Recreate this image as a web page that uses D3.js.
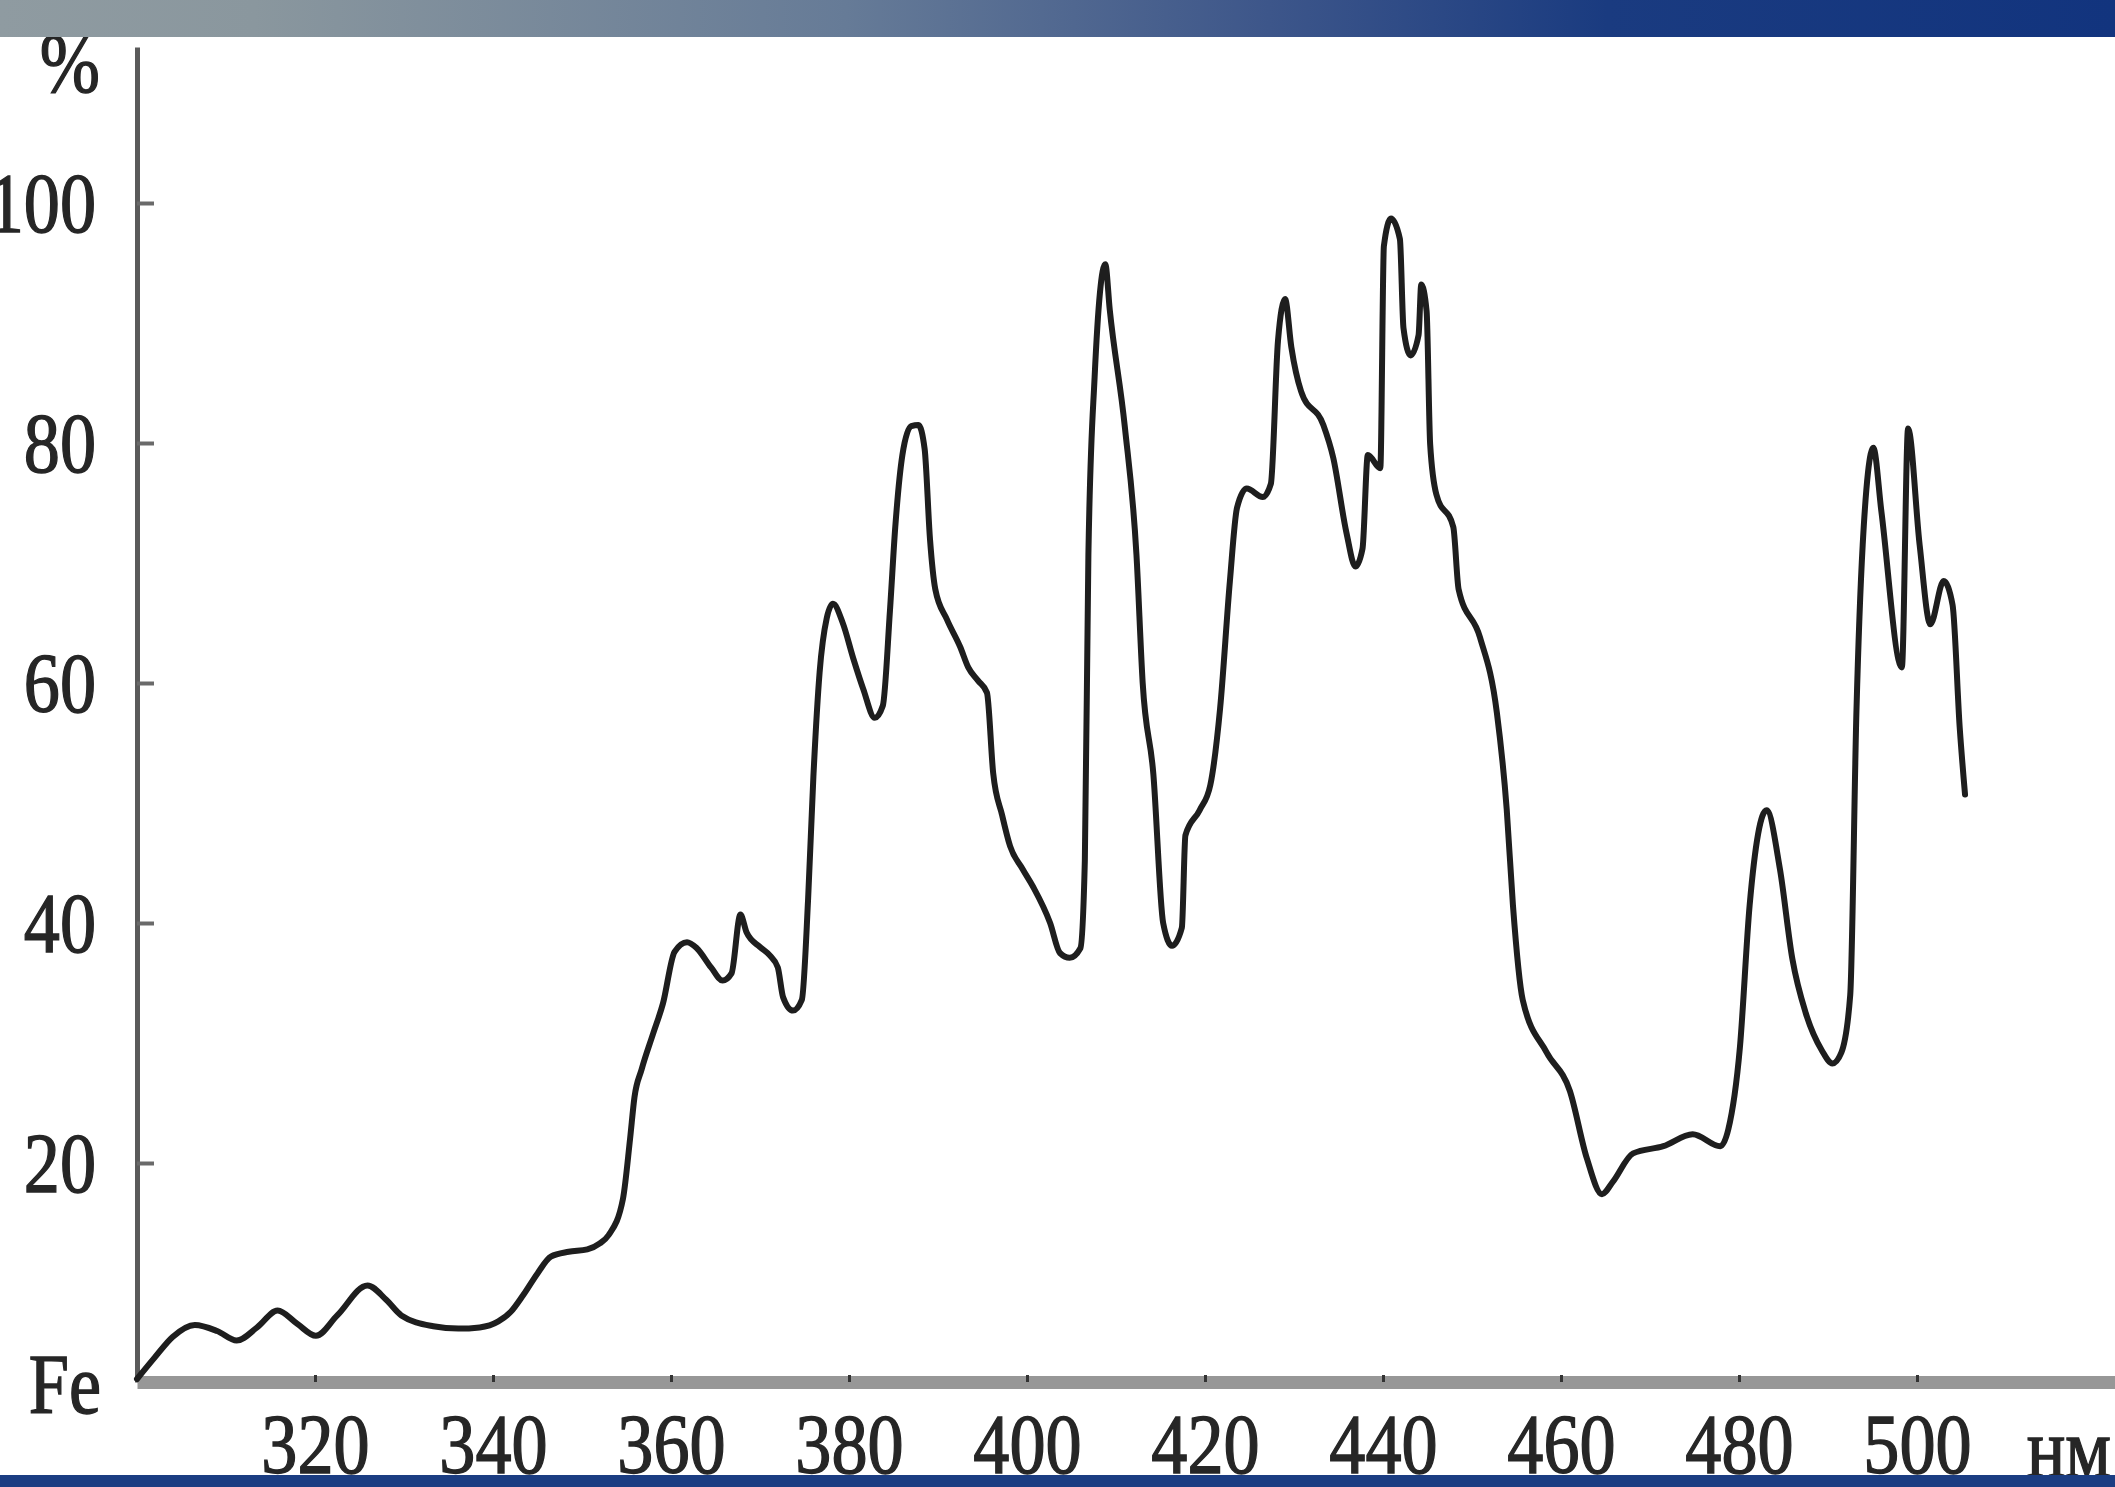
<!DOCTYPE html>
<html>
<head>
<meta charset="utf-8">
<script src="https://cdn.jsdelivr.net/npm/d3@7"></script>
<style>
  html, body { margin: 0; padding: 0; background: #fff; }
  svg { display: block; }
</style>
</head>
<body>
<svg id="chart" width="2115" height="1487"></svg>
<script>
// Wavelength (nm) and relative intensity (%)
const wavelengths = [300,302,304,306.5,309,311.2,313.5,315.8,318,320.1,322.5,325.9,328,329.7,333.3,336.1,338.5,340.6,342,343.4,345,346.5,348.5,350.6,352,353,354.6,355.4,355.9,356.7,358,359.1,360.4,361.8,362.9,364.5,365.8,366.8,367.8,368.5,370,371.1,372,372.6,373.7,374.7,375.4,376,376.7,377.5,378.2,379.3,380.5,381.6,382.9,383.8,384.6,385.2,386,387,387.8,388.5,389.1,389.7,391,392.5,393.4,394.5,395.5,396.2,397.2,398.1,399.5,400.7,402.6,403.7,404.8,406,406.5,406.9,407.6,408.8,409.3,411,412.3,413,414.2,415.3,416.3,417.4,417.8,419.4,420.6,421.7,422.8,423.6,424.7,426.5,427.4,428.2,429,429.7,430.8,433.3,434.4,435.9,436.9,437.7,438.3,439.7,440.1,440.9,441.9,442.3,443.1,444,444.3,444.9,445.3,446,447.9,448.5,450.9,452.8,453.9,454.6,455.7,458.4,461,462.9,464.6,465.8,468.1,471.5,474.8,477.9,478.8,480.1,481.2,483.1,484.6,486,487.5,489.3,490.5,491.5,492.5,493.2,493.9,495.1,496,498.3,499,500.3,501.5,503,504,504.8,505.4];
const intensity   = [2,3.8,5.5,6.5,6.0,5.2,6.3,7.7,6.6,5.6,7.3,9.8,8.6,7.3,6.4,6.2,6.3,6.8,7.6,9.0,10.8,12.2,12.6,12.8,13.3,14,17,22,25.5,27.8,30.8,33.3,37.6,38.4,37.9,36.3,35.2,35.8,40.7,39.2,38.0,37.3,36.3,33.8,32.7,33.6,41.9,52.2,60.9,65.4,66.6,65,62,59.5,57.1,58.1,66,73,79,81.4,81.5,79.5,72,67.8,65.3,63,61.3,60.2,59.2,52.5,49,46.4,44.5,43,40,37.5,37.1,37.9,45.2,70.7,85.5,94.9,91.1,81.3,70.7,60,52.4,40,38.1,39.6,47.3,49.4,51.5,57.9,68.5,74.6,76.2,75.5,76.6,88.5,92,88,84.3,81.5,78.8,72.5,69.7,71.2,79,77.9,96.4,98.7,97,89.6,87.3,89,93.2,91,79.9,75.7,73,67.8,63.8,57.5,49.5,41.5,33.6,29.2,26,20.4,17.4,18.4,20.8,21.4,22.4,21.4,22.8,29.6,41.5,49.4,44.5,37,32.5,29.4,28.3,29.2,34,57.7,71.5,79.6,74.3,61.3,81.2,71.5,64.9,68.5,66.5,56.3,50.7];
const xTickValues = [320,340,360,380,400,420,440,460,480,500];
const yTickValues = [20,40,60,80,100];
const yUnitLabel = "%";
const xUnitLabel = "нм";
const originLabel = "Fe";

const W = 2115, H = 1487;
const svg = d3.select("#chart");
const FONT = "'Liberation Serif', 'Times New Roman', serif";
const SX = 0.86;
const TXT = "#262626";

const x = d3.scaleLinear().domain([300, 522.25]).range([137, 2115]);
const y = d3.scaleLinear().domain([1.75, 113]).range([1382, 47]);

function styleText(sel) {
  sel.attr("fill", TXT).attr("stroke", TXT).attr("stroke-width", 1.4)
    .style("font-family", FONT).style("font-size", "84px");
}

// background
svg.append("rect").attr("width", W).attr("height", H).attr("fill", "#ffffff");

// y axis
const yAxis = svg.append("g").attr("transform", `translate(${x(300)},0)`)
  .call(d3.axisLeft(y).tickValues(yTickValues).tickSizeInner(-17).tickSizeOuter(0).tickFormat(d3.format("d")));
yAxis.select(".domain").attr("stroke", "#5a5a5a").attr("stroke-width", 5);
yAxis.selectAll(".tick line").attr("stroke", "#6a6a6a").attr("stroke-width", 4);
yAxis.selectAll(".tick text")
  .attr("x", -41 / SX).attr("dy", "0.34em")
  .attr("transform", `scale(${SX},1)`)
  .attr("text-anchor", "end")
  .call(styleText);

// x axis
const xAxis = svg.append("g").attr("transform", `translate(0,${y(1.75)})`)
  .call(d3.axisBottom(x).tickValues(xTickValues).tickSizeInner(-7).tickSizeOuter(0).tickFormat(d3.format("d")));
xAxis.select(".domain").attr("stroke", "#979797").attr("stroke-width", 13);
xAxis.selectAll(".tick line").attr("stroke", "#333").attr("stroke-width", 3);
xAxis.selectAll(".tick text")
  .attr("x", 0).attr("y", 91).attr("dy", 0)
  .attr("transform", `scale(${SX},1)`)
  .call(styleText);

// curve
const data = wavelengths.map((w, i) => ({w, v: intensity[i]}));
const line = d3.line().x(d => x(d.w)).y(d => y(d.v)).curve(d3.curveMonotoneX);
svg.append("path").datum(data).attr("d", line)
  .attr("fill", "none").attr("stroke", "#1e1e1e").attr("stroke-width", 6)
  .attr("stroke-linejoin", "round").attr("stroke-linecap", "round");

// unit labels
svg.append("text").attr("transform", `translate(${x(300) - 37},92) scale(${SX},1)`)
  .attr("text-anchor", "end").call(styleText).text(yUnitLabel);
svg.append("text").attr("transform", `translate(${x(300) - 36},1413) scale(${SX},1)`)
  .attr("text-anchor", "end").call(styleText).text(originLabel);
svg.append("text").attr("transform", `translate(${W - 4},1477) scale(${SX},1)`)
  .attr("text-anchor", "end").call(styleText).text(xUnitLabel);

// top gradient bar
const defs = svg.append("defs");
const g = defs.append("linearGradient").attr("id", "topbar").attr("x1", "0%").attr("x2", "100%");
[[0, "#8f9ba1"], [0.12, "#8a979e"], [0.4, "#667b97"], [0.6, "#3d568a"], [0.76, "#1a3b80"], [1, "#12347e"]]
  .forEach(([o, c]) => g.append("stop").attr("offset", o).attr("stop-color", c));
svg.append("rect").attr("x", 0).attr("y", 0).attr("width", W).attr("height", 37).attr("fill", "url(#topbar)");
// bottom bar
svg.append("rect").attr("x", 0).attr("y", 1475).attr("width", W).attr("height", 12).attr("fill", "#1b3d82");
</script>
</body>
</html>
